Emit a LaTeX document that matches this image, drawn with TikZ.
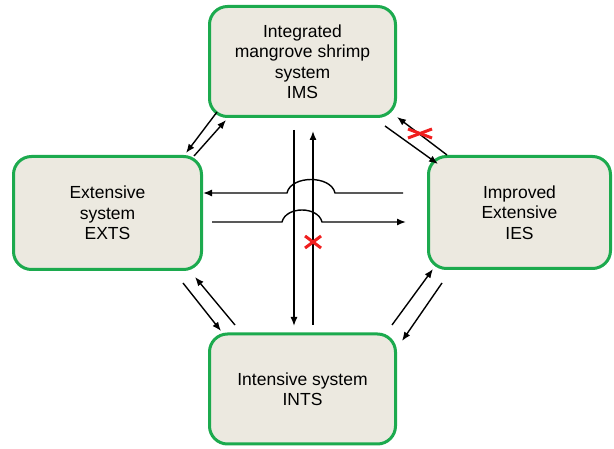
\documentclass[tikz,border=0pt]{standalone}
\usepackage{fontspec}
\setmainfont{Liberation Sans}
\usetikzlibrary{arrows.meta}
\definecolor{boxfill}{RGB}{236,233,224}
\definecolor{boxgreen}{RGB}{28,170,78}
\definecolor{xred}{RGB}{240,30,30}
\begin{document}
\begin{tikzpicture}[x=1pt,y=-1pt,
  box/.style={draw=boxgreen, line width=3pt, fill=boxfill, rounded corners=18pt,
    align=center, font=\fontsize{17.5}{20.5}\selectfont, inner sep=0pt},
  arr/.style={line width=1.4pt, -{Latex[length=9pt,width=7pt]}},
  xmark/.style={draw=xred, line width=3pt}]
\useasboundingbox (0,0) rectangle (614,449);
% boxes
\node[box, minimum width=186pt, minimum height=110pt] (ims) at (302.5,61.5)
  {Integrated\\mangrove shrimp\\system\\IMS};
\node[box, minimum width=188pt, minimum height=113pt] (exts) at (107.5,213)
  {Extensive\\system\\EXTS};
\node[box, minimum width=182pt, minimum height=112pt] (ies) at (519.5,212.5)
  {Improved\\Extensive\\IES};
\node[box, minimum width=186pt, minimum height=110pt] (ints) at (302.5,389)
  {Intensive system\\INTS};
% end points
\coordinate (a1) at (217,112); \coordinate (a2) at (186,153);
\coordinate (b1) at (194,156); \coordinate (b2) at (226,120);
\coordinate (c1) at (385,126); \coordinate (c2) at (438,164);
\coordinate (d1) at (447,155); \coordinate (d2) at (397,117);
\coordinate (e1) at (183,283); \coordinate (e2) at (221,331);
\coordinate (f1) at (235,325); \coordinate (f2) at (195,277);
\coordinate (g1) at (392,325); \coordinate (g2) at (433,269);
\coordinate (h1) at (442,283); \coordinate (h2) at (402,341);
\coordinate (v1) at (294,130); \coordinate (v2) at (294,326);
\coordinate (w1) at (313,325); \coordinate (w2) at (313,131);
\coordinate (u1) at (403,193); \coordinate (u2) at (203,193);
\coordinate (l1) at (212,222); \coordinate (l2) at (406,222);
% diagonal arrows
\draw[arr] (a1) -- (a2);
\draw[arr] (b1) -- (b2);
\draw[arr] (c1) -- (c2);
\draw[arr] (d1) -- (d2);
\draw[arr] (e1) -- (e2);
\draw[arr] (f1) -- (f2);
\draw[arr] (g1) -- (g2);
\draw[arr] (h1) -- (h2);
% vertical arrows
\draw[arr] (v1) -- (v2);
\draw[arr] (w1) -- (w2);
% horizontal arrows with humps
\draw[arr] (u1) -- (335,193) .. controls (331,175) and (291,175) .. (287,193) -- (u2);
\draw[arr] (l1) -- (282,222) .. controls (286,206) and (318,206) .. (322,222) -- (l2);
% red crosses
\draw[xmark] (408,129) -- (432,138);
\draw[xmark] (408,138) -- (432,129);
\draw[xmark] (305,236) -- (321,248);
\draw[xmark] (305,248) -- (321,236);
\end{tikzpicture}
\end{document}
